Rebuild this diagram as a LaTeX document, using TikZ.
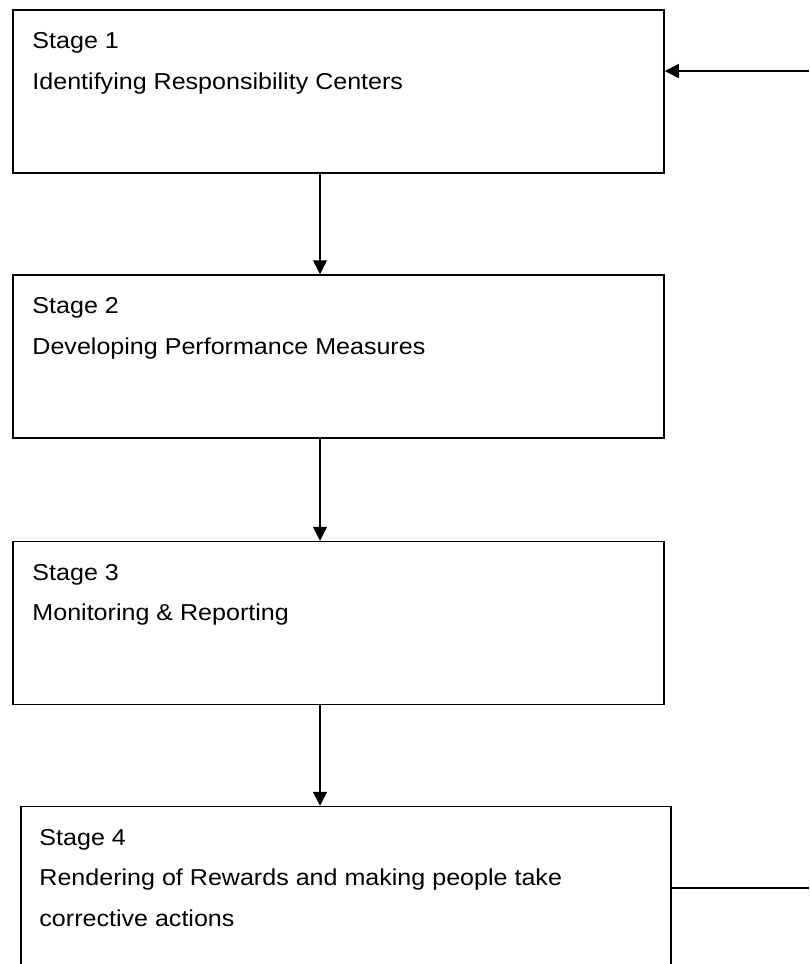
\documentclass[tikz,border=0pt]{standalone}
\usepackage{fontspec}
\setmainfont[FakeStretch=1.09]{Liberation Sans}
\usetikzlibrary{arrows.meta}

\tikzset{
	stagebox/.style={draw, line width=1.5pt, minimum width=651pt, minimum height=163pt, inner sep=0pt},
	stagetext/.style={anchor=north west, align=left, inner sep=0pt, font=\fontsize{23}{40.5}\selectfont},
	flow/.style={line width=1.5pt, -{Triangle[length=14pt,width=14pt]}}
}

\begin{document}
\begin{tikzpicture}[x=1pt,y=-1pt]
	\useasboundingbox (0,0) rectangle (809,964);
	\clip (0,0) rectangle (809,964);
	\node[stagebox] (stage1) at (338.5,91.5){};
	\node[stagebox] (stage2) at (338.5,356.5){};
	\node[stagebox] (stage3) at (338.5,623){};
	\node[stagebox, minimum width=650pt] (stage4) at (346,888){};
	\node[stagetext] (text1) at ([xshift=20pt,yshift=-23pt]stage1.north west){Stage 1\\Identifying Responsibility Centers};
	\node[stagetext] (text2) at ([xshift=20pt,yshift=-23pt]stage2.north west){Stage 2\\Developing Performance Measures};
	\node[stagetext] (text3) at ([xshift=20pt,yshift=-23pt]stage3.north west){Stage 3\\Monitoring \& Reporting};
	\node[stagetext] (text4) at ([xshift=19pt,yshift=-23pt]stage4.north west){Stage 4\\Rendering of Rewards and making people take\\corrective actions};
	\coordinate (axis) at (320,0);
	\coordinate (loopin) at (809,71);
	\coordinate (loopout) at (809,888);
	\draw[flow] (stage1.south -| axis)--(stage2.north -| axis);
	\draw[flow] (stage2.south -| axis)--(stage3.north -| axis);
	\draw[flow] (stage3.south -| axis)--(stage4.north -| axis);
	\draw[flow] (loopin)--(stage1.east |- loopin);
	\draw[line width=1.5pt] (stage4.east)--(loopout);
\end{tikzpicture}
\end{document}
